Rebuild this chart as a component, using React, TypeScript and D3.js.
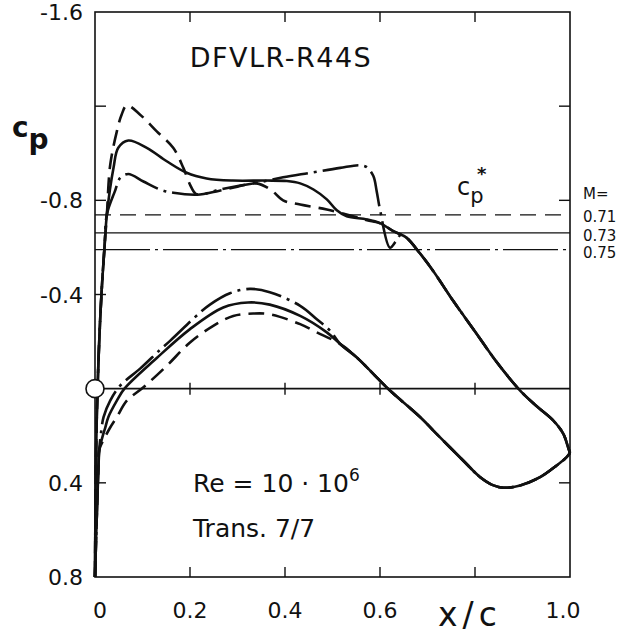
import React from "react";
import * as d3 from "d3";

const W = 634;
const H = 633;

// axis ticks
const xTickVals = [0, 0.2, 0.4, 0.6, 1.0];
const xTickLabels = ["0", "0.2", "0.4", "0.6", "1.0"];
const xInnerTicks = [0.2, 0.4, 0.6, 0.8];
const yTickVals = [-1.6, -0.8, -0.4, 0.4, 0.8];
const yTickLabels = ["-1.6", "-0.8", "-0.4", "0.4", "0.8"];
const yLeftTicks = [-1.2, -0.8, -0.4, 0.4];
const yRightTicks = [-1.2, -0.8, 0.4];

// Mach numbers and critical pressure coefficients
const machLabels = ["0.71", "0.73", "0.75"];
const cpStar = [-0.738, -0.662, -0.591];

// shared leading-edge part, upper surface
const upperLE: [number, number][] = [
  [0, 0.8], [0.001, 0.5], [0.002, 0.3], [0.004, 0.1], [0.007, -0.1],
  [0.011, -0.3], [0.015, -0.45], [0.02, -0.6], [0.025, -0.74],
];
// shared rear part, upper surface
const upperTE: [number, number][] = [
  [0.6, -0.703], [0.628, -0.669], [0.656, -0.641], [0.684, -0.575], [0.712, -0.5],
  [0.754, -0.373], [0.8, -0.243], [0.846, -0.112], [0.895, 0.008], [0.93, 0.075],
  [0.965, 0.136], [0.986, 0.192], [0.996, 0.249], [1.0, 0.272],
];
// individual upper surfaces
const upper71: [number, number][] = [
  [0.032, -0.95], [0.046, -1.093], [0.056, -1.164], [0.067, -1.203], [0.095, -1.164],
  [0.13, -1.093], [0.165, -1.022], [0.186, -0.938], [0.2, -0.867], [0.212, -0.828],
  [0.225, -0.826], [0.26, -0.84], [0.3, -0.858], [0.34, -0.872], [0.37, -0.845],
  [0.396, -0.8], [0.432, -0.782], [0.488, -0.761], [0.551, -0.728], [0.58, -0.712],
];
const upper73: [number, number][] = [
  [0.039, -0.938], [0.049, -1.023], [0.07, -1.054], [0.109, -1.023], [0.151, -0.966],
  [0.193, -0.917], [0.235, -0.893], [0.29, -0.884], [0.36, -0.884], [0.404, -0.882],
  [0.432, -0.872], [0.46, -0.846], [0.488, -0.804], [0.509, -0.758], [0.53, -0.732],
  [0.572, -0.719],
];
const upper75: [number, number][] = [
  [0.042, -0.839], [0.053, -0.895], [0.07, -0.912], [0.102, -0.88], [0.137, -0.846],
  [0.165, -0.832], [0.221, -0.825], [0.263, -0.846], [0.298, -0.86], [0.34, -0.874],
  [0.396, -0.898], [0.453, -0.917], [0.516, -0.938], [0.558, -0.949], [0.572, -0.941],
  [0.586, -0.903], [0.593, -0.839], [0.6, -0.761], [0.621, -0.599], [0.633, -0.625],
  [0.645, -0.655],
];

// shared leading-edge part, lower surface
const lowerLE: [number, number][] = [
  [0, 0.8], [0.0035, 0.56], [0.007, 0.35], [0.009, 0.26],
];
// shared rear part, lower surface
const lowerTE: [number, number][] = [
  [0.516, -0.19], [0.551, -0.133], [0.593, -0.048], [0.621, 0.008], [0.684, 0.12],
  [0.726, 0.206], [0.775, 0.305], [0.811, 0.376], [0.839, 0.411], [0.86, 0.421],
  [0.895, 0.411], [0.937, 0.376], [0.972, 0.326], [0.993, 0.291], [1.0, 0.272],
];
// individual lower surfaces
const lower71: [number, number][] = [
  [0.02, 0.21], [0.032, 0.165], [0.046, 0.121], [0.067, 0.051], [0.102, -0.006],
  [0.151, -0.097], [0.2, -0.196], [0.249, -0.267], [0.291, -0.309], [0.333, -0.319],
  [0.368, -0.316], [0.432, -0.274], [0.467, -0.239],
];
const lower73: [number, number][] = [
  [0.015, 0.21], [0.021, 0.17], [0.028, 0.121], [0.046, 0.051], [0.062, 0.0],
  [0.13, -0.13], [0.2, -0.253], [0.27, -0.345], [0.322, -0.366], [0.368, -0.357],
  [0.432, -0.309], [0.488, -0.239],
];
const lower75: [number, number][] = [
  [0.012, 0.2], [0.018, 0.121], [0.032, 0.051], [0.053, -0.013], [0.095, -0.085],
  [0.137, -0.165], [0.158, -0.203], [0.221, -0.323], [0.242, -0.357], [0.284, -0.405],
  [0.326, -0.424], [0.368, -0.41], [0.432, -0.352], [0.467, -0.295], [0.495, -0.246],
];

const upperCurves = [
  [...upperLE, ...upper71, ...upperTE],
  [...upperLE, ...upper73, ...upperTE],
  [...upperLE, ...upper75, ...upperTE.slice(2)],
];
const lowerCurves = [
  [...lowerLE, ...lower71, ...lowerTE],
  [...lowerLE, ...lower73, ...lowerTE],
  [...lowerLE, ...lower75, ...lowerTE],
];

const curveDash = ["16 8", "none", "36 6 3 6"];
const refDash = ["16 9", "none", "55 5 3 5"];

const FONT = "'DejaVu Sans', sans-serif";

export default function App() {
  const x = d3.scaleLinear().domain([0, 1]).range([95, 570]);
  const y = d3.scaleLinear().domain([-1.6, 0.8]).range([12, 577]);
  const line = d3
    .line<[number, number]>()
    .x((d) => x(d[0]))
    .y((d) => y(d[1]))
    .curve(d3.curveCatmullRom.alpha(0.5));

  const [x0, x1] = x.range();
  const [yTop, yBot] = y.range();

  return (
    <svg
      width={W}
      height={H}
      style={{ position: "absolute", left: 0, top: 0, background: "#fff" }}
      fontFamily={FONT}
    >
      <rect x={0} y={0} width={W} height={H} fill="#fff" />
      {/* frame */}
      <rect x={x0} y={yTop} width={x1 - x0} height={yBot - yTop} fill="none" stroke="#111" strokeWidth={1.6} />
      {/* zero line */}
      <line x1={x0} x2={x1} y1={y(0)} y2={y(0)} stroke="#111" strokeWidth={1.6} />
      {xInnerTicks.map((t) => (
        <g key={"xt" + t}>
          <line x1={x(t)} x2={x(t)} y1={yTop} y2={yTop + 10} stroke="#111" strokeWidth={1.4} />
          <line x1={x(t)} x2={x(t)} y1={yBot} y2={yBot - 10} stroke="#111" strokeWidth={1.4} />
          <line x1={x(t)} x2={x(t)} y1={y(0) - 6} y2={y(0) + 6} stroke="#111" strokeWidth={1.4} />
        </g>
      ))}
      {yLeftTicks.map((t) => (
        <line key={"yl" + t} x1={x0} x2={x0 + 11} y1={y(t)} y2={y(t)} stroke="#111" strokeWidth={1.4} />
      ))}
      {yRightTicks.map((t) => (
        <line key={"yr" + t} x1={x1} x2={x1 - 11} y1={y(t)} y2={y(t)} stroke="#111" strokeWidth={1.4} />
      ))}

      {/* critical pressure lines */}
      {cpStar.map((c, i) => (
        <line
          key={"cs" + i}
          x1={x0}
          x2={x1}
          y1={y(c)}
          y2={y(c)}
          stroke="#111"
          strokeWidth={1.2}
          strokeDasharray={refDash[i]}
        />
      ))}

      {/* pressure distributions */}
      {upperCurves.map((pts, i) => (
        <path
          key={"u" + i}
          d={line(pts) || ""}
          fill="none"
          stroke="#111"
          strokeWidth={2.6}
          strokeDasharray={curveDash[i]}
          strokeLinejoin="round"
        />
      ))}
      {lowerCurves.map((pts, i) => (
        <path
          key={"l" + i}
          d={line(pts) || ""}
          fill="none"
          stroke="#111"
          strokeWidth={2.6}
          strokeDasharray={curveDash[i]}
          strokeLinejoin="round"
        />
      ))}

      {/* stagnation marker */}
      <circle cx={x(0)} cy={y(0)} r={9} fill="#fff" stroke="#111" strokeWidth={1.6} />

      {/* y tick labels */}
      {yTickVals.map((v, i) => (
        <text key={"yl" + i} x={83} y={y(v) + 8} textAnchor="end" fontSize={22} fill="#111">
          {yTickLabels[i]}
        </text>
      ))}
      {/* x tick labels */}
      {xTickVals.map((v, i) => (
        <text key={"xl" + i} x={x(v) - (v === 1 ? 7 : v === 0 ? -5 : 0)} y={618} textAnchor="middle" fontSize={22} fill="#111">
          {xTickLabels[i]}
        </text>
      ))}
      <text x={470} y={626} textAnchor="middle" fontSize={33} letterSpacing={5} fill="#111">
        x/c
      </text>

      {/* c_p axis label */}
      <text x={12} y={137} fontSize={28} fontWeight="bold" fill="#111">
        c<tspan dy={12}>p</tspan>
      </text>

      {/* title */}
      <text x={281} y={67} textAnchor="middle" fontSize={27} letterSpacing={1.5} fill="#111">
        DFVLR-R44S
      </text>

      {/* c_p* label */}
      <text x={457} y={195} fontSize={24} fill="#111">
        c<tspan fontSize={21} dy={8}>p</tspan>
        <tspan x={477} y={180} fontSize={18} fontWeight="bold">*</tspan>
      </text>

      {/* Mach legend */}
      <text x={583} y={199} fontSize={15} fill="#111">
        M=
        {machLabels.map((m, i) => (
          <tspan key={"m" + i} x={583} y={y(cpStar[i]) + 7 + i * 0.7} fontSize={15}>
            {m}
          </tspan>
        ))}
      </text>

      {/* flow conditions */}
      <text x={193} y={492} fontSize={25} fill="#111">
        Re = 10 · 10<tspan dy={-11} fontSize={17}>6</tspan>
      </text>
      <text x={193} y={537} fontSize={25} fill="#111">
        Trans. 7/7
      </text>
    </svg>
  );
}
